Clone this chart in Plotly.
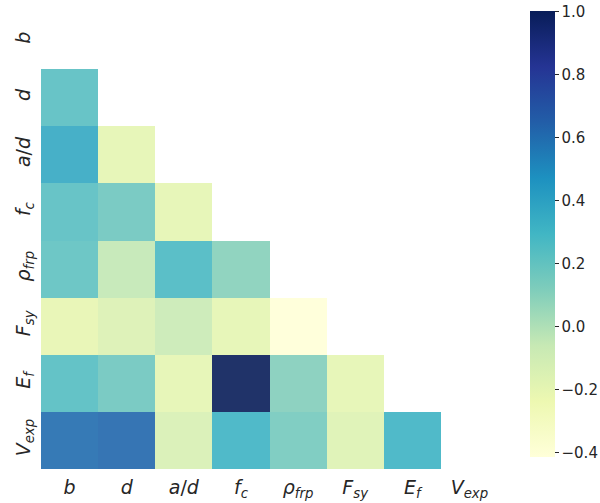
import plotly.graph_objects as go

variables = ["b", "d", "a/d", "f_c", "rho_frp", "F_sy", "E_f", "V_exp"]
tick_labels = [
    "<i>b</i>", "<i>d</i>", "<i>a</i>/<i>d</i>", "<i>f</i><sub><i>c</i></sub>",
    "<i>ρ</i><sub><i>frp</i></sub>", "<i>F</i><sub><i>sy</i></sub>",
    "<i>E</i><sub><i>f</i></sub>", "<i>V</i><sub><i>exp</i></sub>",
]

# lower-triangle correlations (row i, columns 0..i-1)
row_d = [0.23]
row_ad = [0.36, -0.20]
row_fc = [0.23, 0.17, -0.20]
row_rho = [0.21, -0.05, 0.27, 0.10]
row_fsy = [-0.21, -0.15, -0.07, -0.20, -0.41]
row_ef = [0.24, 0.17, -0.20, 1.00, 0.11, -0.20]
row_vexp = [0.60, 0.62, -0.14, 0.31, 0.15, -0.16, 0.31]

rows = [[], row_d, row_ad, row_fc, row_rho, row_fsy, row_ef, row_vexp]
n = len(variables)
z = []
for i in range(n):
    z.append([rows[i][j] if j < i else None for j in range(n)])

cb_vals = [1.0, 0.8, 0.6, 0.4, 0.2, 0.0, -0.2, -0.4]
cb_text = ["1.0", "0.8", "0.6", "0.4", "0.2", "0.0", "−0.2", "−0.4"]

ylgnbu = ["#ffffd9", "#edf8b1", "#c7e9b4", "#7fcdbb", "#41b6c4",
          "#1d91c0", "#225ea8", "#253494", "#081d58"]
colorscale = [[k / 8, c] for k, c in enumerate(ylgnbu)]

W, H = 600, 503
plot_h = H - 12 - 34

fig = go.Figure(go.Heatmap(
    z=z, x=variables, y=variables,
    colorscale=colorscale, zmin=-0.413, zmax=1.003,
    opacity=0.9,
    hoverongaps=False,
    colorbar=dict(
        xref="container", x=530 / W, xanchor="left",
        yref="container", y=1 - 12 / H, yanchor="top", len=446 / plot_h,
        thickness=25, outlinewidth=0, xpad=0, ypad=0,
        tickvals=cb_vals, ticktext=cb_text,
        ticks="outside", ticklen=4, tickcolor="#262626",
        tickfont=dict(family="DejaVu Sans", size=15, color="#262626"),
    ),
))

fig.update_layout(
    width=W, height=H,
    margin=dict(l=41, r=102, t=12, b=34),
    paper_bgcolor="white", plot_bgcolor="white",
    font=dict(family="DejaVu Sans", color="#262626"),
)
fig.update_xaxes(
    tickvals=variables, ticktext=tick_labels, showgrid=False, zeroline=False,
    showline=False, ticks="", tickfont=dict(size=19), automargin=False,
    ticklabelstandoff=5,
)
fig.update_yaxes(
    tickvals=variables, ticktext=tick_labels, autorange="reversed",
    showgrid=False, zeroline=False, showline=False, ticks="",
    tickangle=-90, tickfont=dict(size=19), automargin=False,
    ticklabelstandoff=6,
)

fig.write_html("out.html", post_script="document.body.style.margin='0';",
               config={"displayModeBar": False})
